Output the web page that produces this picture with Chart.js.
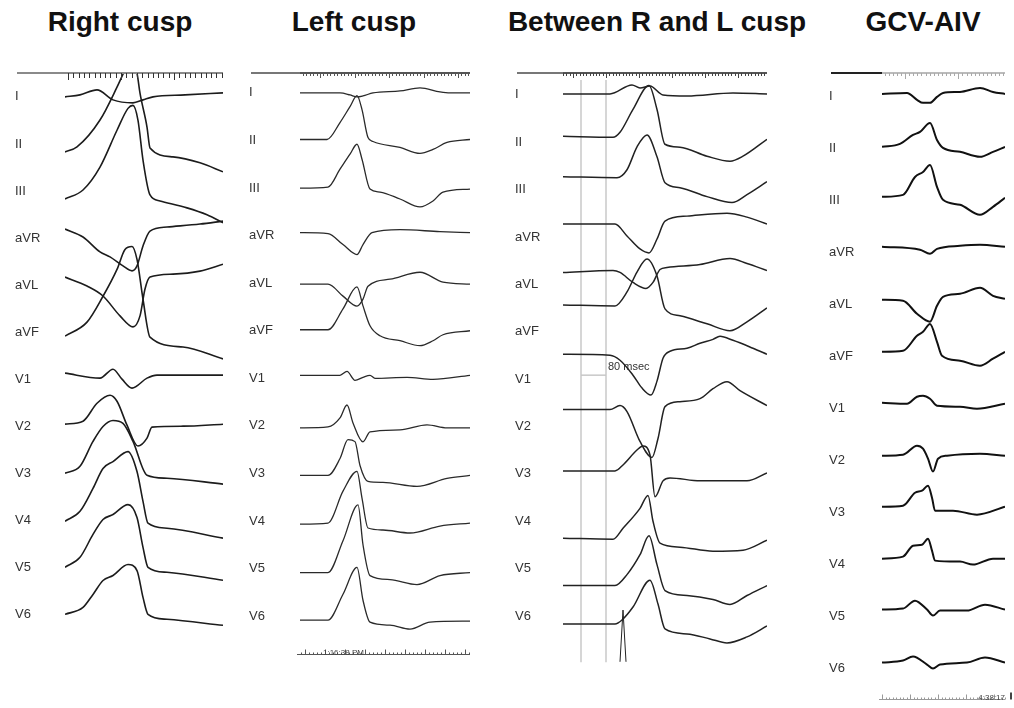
<!DOCTYPE html>
<html>
<head>
<meta charset="utf-8">
<script src="https://cdn.jsdelivr.net/npm/chart.js@4"></script>
<style>
    body { margin: 0; background: #fff; width: 1014px; height: 708px; position: relative; overflow: hidden; font-family: "Liberation Sans", Arial, sans-serif; }
    .title { position: absolute; top: 8px; width: 340px; text-align: center; font-weight: bold; font-size: 28px; line-height: 28px; color: #111; white-space: nowrap; }
</style>
</head>
<body>
<script>
const leadNames = ['I', 'II', 'III', 'aVR', 'aVL', 'aVF', 'V1', 'V2', 'V3', 'V4', 'V5', 'V6'];
const titles = ['Right cusp', 'Left cusp', 'Between R and L cusp', 'GCV-AIV'];

// each lead: [time, amplitude] pairs, time from the start of the strip, amplitude up from the lead's row
const rightCusp = [
    [[0, 0], [15, 2], [32, 7], [48, -3], [68, -6], [78, -3], [88, 0], [120, 2], [158, 4]],
    [[0, -8], [12, -3], [35, 24], [52, 57], [58, 70], [65, 84], [72, 71], [75, 51], [82, 17], [85, -4], [108, -13], [135, -19], [158, -28]],
    [[0, -8], [18, 1], [35, 24], [52, 61], [63, 83], [68, 86], [73, 71], [78, 31], [85, -4], [95, -10], [122, -17], [142, -24], [158, -32]],
    [[0, 9], [18, 1], [35, -14], [45, -19], [58, -28], [67, -33], [72, -28], [78, -8], [85, 7], [102, 11], [135, 14], [158, 17]],
    [[0, 8], [22, -1], [38, -11], [55, -31], [68, -42], [75, -31], [80, -4], [85, 8], [108, 11], [135, 14], [158, 21]],
    [[0, -4], [22, 10], [38, 36], [52, 63], [60, 83], [67, 86], [72, 73], [78, 33], [85, -5], [118, -15], [158, -27]],
    [[0, 6], [35, 1], [48, 10], [57, 0], [67, -9], [82, 1], [92, 4], [158, 4]],
    [[0, 2], [18, 5], [32, 23], [45, 31], [52, 25], [62, 1], [73, -20], [82, -12], [87, -1], [118, 0], [158, 2]],
    [[0, 0], [15, 7], [28, 32], [38, 47], [48, 53], [58, 50], [68, 32], [82, -2], [102, -5], [158, -11]],
    [[0, -1], [15, 9], [28, 32], [38, 52], [48, 59], [63, 69], [72, 49], [78, 19], [83, -3], [102, -8], [158, -18]],
    [[0, 0], [15, 10], [28, 33], [38, 48], [48, 53], [63, 63], [72, 50], [78, 20], [83, 0], [102, -5], [158, -13]],
    [[0, 0], [18, 7], [28, 20], [38, 34], [48, 39], [63, 50], [72, 44], [78, 17], [83, 0], [102, -5], [158, -11]]
];

const leftCusp = [
    [[0, 0], [40, 0], [50, -2], [57, -4], [63, -3], [73, 0], [100, 2], [120, 5], [140, 1], [150, 0], [170, 0]],
    [[0, 1], [27, 1], [40, 18], [50, 34], [57, 45], [62, 31], [68, 3], [73, -1], [100, -7], [120, -13], [133, -9], [147, -2], [170, 1]],
    [[0, 0], [28, 1], [40, 19], [50, 34], [57, 44], [62, 29], [70, -1], [80, -4], [100, -11], [120, -19], [133, -13], [143, -4], [170, -1]],
    [[0, 3], [28, 2], [43, -9], [57, -19], [63, -9], [72, 3], [100, 6], [140, 4], [170, 3]],
    [[0, -1], [28, -1], [43, -13], [57, -23], [63, -16], [68, -3], [90, 4], [120, 11], [143, 1], [170, -1]],
    [[0, 1], [28, 1], [43, 22], [57, 44], [63, 25], [70, 5], [80, -5], [100, -10], [120, -15], [133, -10], [143, -4], [170, 0]],
    [[0, 3], [40, 3], [47, 7], [55, -2], [63, 1], [70, 3], [75, 0], [107, 1], [133, -1], [170, 3]],
    [[0, -2], [28, -1], [40, 8], [47, 21], [53, 3], [63, -16], [70, -6], [100, -4], [127, 1], [147, -2], [170, -2]],
    [[0, -2], [28, -2], [40, 15], [48, 34], [55, 32], [60, 8], [68, -8], [83, -9], [117, -13], [147, -5], [170, -2]],
    [[0, -3], [28, -2], [43, 30], [57, 50], [62, 23], [68, -7], [83, -9], [110, -12], [140, -5], [170, -2]],
    [[0, -4], [28, -4], [43, 28], [58, 64], [63, 24], [70, -7], [90, -11], [117, -16], [140, -7], [170, -4]],
    [[0, -4], [28, -4], [43, 22], [57, 49], [63, 16], [70, -6], [90, -9], [110, -13], [130, -6], [170, -5]]
];

const betweenCusp = [
    [[0, 1], [47, 1], [69, 10], [77, 7], [87, 9], [100, 0], [124, -1], [170, 2], [204, 1]],
    [[0, 6], [50, 5], [57, 10], [70, 33], [86, 57], [94, 33], [102, -2], [117, -5], [144, -14], [167, -19], [180, -14], [204, 3]],
    [[0, 13], [54, 12], [64, 20], [74, 43], [84, 55], [94, 33], [102, 7], [117, 2], [144, -7], [169, -13], [184, -5], [204, 8]],
    [[0, 13], [52, 13], [64, 1], [77, -12], [86, -16], [94, -2], [102, 16], [124, 21], [164, 24], [184, 20], [204, 13]],
    [[0, 12], [50, 14], [57, 12], [70, 2], [83, -4], [90, 2], [97, 15], [104, 17], [137, 20], [167, 26], [184, 21], [204, 14]],
    [[0, 27], [52, 26], [64, 40], [74, 60], [84, 73], [94, 56], [102, 23], [117, 16], [144, 8], [167, 1], [184, 10], [204, 24]],
    [[0, 25], [47, 24], [57, 19], [70, 4], [79, -9], [88, -16], [94, -2], [100, 21], [107, 28], [124, 31], [137, 36], [150, 40], [157, 43], [170, 39], [190, 31], [204, 25]],
    [[0, 17], [47, 17], [57, 21], [64, 15], [77, -15], [89, -31], [95, -12], [102, 20], [117, 25], [137, 28], [150, 38], [164, 45], [177, 36], [204, 21]],
    [[0, 3], [52, 3], [60, 9], [74, 24], [80, 28], [87, 19], [92, -23], [100, -7], [107, -4], [137, -7], [184, -7], [204, 1]],
    [[0, -17], [50, -18], [60, -7], [77, 13], [85, 26], [90, 0], [97, -22], [117, -26], [150, -30], [180, -29], [204, -19]],
    [[0, -17], [52, -17], [64, -6], [77, 14], [86, 33], [94, 4], [102, -22], [124, -27], [150, -31], [167, -36], [184, -27], [204, -17]],
    [[0, -8], [52, -8], [59, -4], [70, 9], [87, 36], [95, 12], [102, -13], [124, -18], [147, -23], [164, -27], [184, -21], [204, -10]]
];

const gcvAiv = [
    [[0, 3], [25, 4], [35, -3], [41, -6], [48, -6], [55, 0], [61, 4], [78, 5], [98, 9], [111, 5], [123, 3]],
    [[0, 2], [18, 5], [31, 14], [38, 17], [48, 26], [55, 9], [61, 1], [78, -3], [98, -8], [111, -3], [123, 2]],
    [[0, 4], [21, 6], [33, 24], [41, 29], [48, 36], [55, 14], [61, 1], [78, -4], [98, -14], [111, -6], [123, 3]],
    [[0, 6], [38, 3], [48, -1], [55, 4], [78, 7], [98, 8], [123, 6]],
    [[0, 5], [21, 4], [35, -9], [48, -17], [55, -1], [61, 8], [78, 11], [98, 17], [111, 9], [123, 6]],
    [[0, 5], [21, 6], [35, 21], [41, 25], [48, 33], [55, 15], [60, 1], [78, -4], [98, -9], [111, -2], [123, 5]],
    [[0, 6], [25, 5], [35, 12], [41, 13], [48, 10], [55, 3], [78, 2], [95, 0], [123, 5]],
    [[0, 5], [21, 6], [35, 15], [41, 12], [46, 2], [51, -11], [56, 2], [65, 5], [98, 7], [123, 5]],
    [[0, 6], [21, 7], [33, 20], [40, 22], [46, 27], [50, 15], [53, 2], [71, 2], [95, -2], [123, 6]],
    [[0, 6], [21, 8], [31, 19], [40, 20], [46, 26], [50, 14], [53, 4], [78, 3], [91, 0], [111, 6], [123, 6]],
    [[0, 7], [21, 8], [33, 16], [45, 7], [51, 1], [58, 6], [85, 6], [103, 12], [123, 7]],
    [[0, 6], [21, 8], [31, 12], [45, 4], [51, 0], [58, 4], [85, 6], [103, 11], [123, 6]]
];

// pacing artefact on V6 of the third strip
const pacingSpike = [[57, -46], [60, 6], [63, -46]];
// calipers on the third strip
const caliperT = [18, 43];
const caliperLabel = '80 msec';
const stampLeft = '1:16:38 PM';
const stampGcv = '4:38:17';

const FONT = '"Liberation Sans", Arial, sans-serif';
const TOP = 60, AREA_TOP = 74;

const panels = [
    { cx: 120, labelX: 15, left: 65, right: 223, padRight: 4, bottom: 650, row0: 97, step: 47.27, span: 158, leads: rightCusp, width: 1.6, color: '#1c1c1c',
      ruler: { first: 3, step: 5.3, every: 10, base: '#8a8a8a', line: '#8a8a8a', tick: '#333', minor: 5, major: 7 } },
    { cx: 354, labelX: 249, left: 300, right: 470, padRight: 4, bottom: 658, row0: 93, step: 47.8, span: 170, leads: leftCusp, width: 1.3, color: '#2a2a2a',
      ruler: { first: 20, step: 3.45, every: 10, base: '#777', line: '#555', tick: '#555', minor: 3, major: 5 },
      stamp: { text: stampLeft, at: 23, align: 'left', first: 5, step: 4, every: 5, color: '#555' } },
    { cx: 657, labelX: 515, left: 563, right: 767, padRight: 4, bottom: 665, row0: 95, step: 47.6, span: 204, leads: betweenCusp, width: 1.5, color: '#222',
      ruler: { first: 10, step: 3.3, every: 10, base: '#777', line: '#555', tick: '#444', minor: 3, major: 5 },
      spike: pacingSpike, calipers: { t: caliperT, row: 6, lift: 4, label: caliperLabel } },
    { cx: 923, labelX: 829, left: 882, right: 1005, padRight: 9, bottom: 703, row0: 97, step: 52.2, span: 123, leads: gcvAiv, width: 2, color: '#111',
      ruler: { first: 23, step: 4.1, every: 13, base: '#222', line: '#bbb', tick: '#aaa', minor: 3, major: 6 },
      stamp: { text: stampGcv, at: 123, align: 'right', first: 56, step: 3.5, every: 8, color: '#999', bar: true } }
];

const decor = {
    id: 'decor',
    beforeDatasetsDraw(chart, args, o) {
        const c = o.calipers;
        if (!c) return;
        const { ctx, chartArea: a, scales: { x, y } } = chart;
        ctx.save();
        ctx.strokeStyle = '#c8c8c8';
        ctx.lineWidth = 1.5;
        c.t.forEach(t => {
            const px = x.getPixelForValue(t);
            ctx.beginPath(); ctx.moveTo(px, a.top + 6); ctx.lineTo(px, a.bottom); ctx.stroke();
        });
        const yb = y.getPixelForValue(-c.row * o.step + c.lift);
        const x1 = x.getPixelForValue(c.t[0]), x2 = x.getPixelForValue(c.t[1]);
        ctx.beginPath(); ctx.moveTo(x1, yb); ctx.lineTo(x2, yb); ctx.stroke();
        ctx.fillStyle = '#333';
        ctx.font = '11px ' + FONT;
        ctx.textBaseline = 'middle';
        ctx.fillText(c.label, x2 + 2, yb - 8);
        ctx.restore();
    },
    afterDatasetsDraw(chart, args, o) {
        const { ctx, chartArea: a, scales: { x, y } } = chart;
        const r = o.ruler;
        const ry = a.top - 1;
        ctx.save();
        ctx.lineWidth = 2;
        ctx.strokeStyle = r.base;
        ctx.beginPath(); ctx.moveTo(y.left + 2, ry); ctx.lineTo(a.left, ry); ctx.stroke();
        ctx.strokeStyle = r.line;
        ctx.beginPath(); ctx.moveTo(a.left, ry); ctx.lineTo(a.right, ry); ctx.stroke();
        ctx.lineWidth = 1;
        ctx.strokeStyle = r.tick;
        for (let k = Math.ceil(-r.first / r.step); r.first + k * r.step <= x.max + 0.01; k++) {
            const px = Math.round(x.getPixelForValue(r.first + k * r.step)) + 0.5;
            const len = k % r.every === 0 ? r.major : r.minor;
            ctx.beginPath(); ctx.moveTo(px, ry); ctx.lineTo(px, ry + len); ctx.stroke();
        }

        const s = o.stamp;
        if (s) {
            const sy = Math.round(a.bottom) - 0.5;
            ctx.strokeStyle = s.color;
            ctx.beginPath(); ctx.moveTo(x.getPixelForValue(-3), sy); ctx.lineTo(a.right, sy); ctx.stroke();
            for (let k = Math.ceil(-s.first / s.step); s.first + k * s.step <= x.max + 0.01; k++) {
                const px = Math.round(x.getPixelForValue(s.first + k * s.step)) + 0.5;
                const len = k % s.every === 0 ? 5 : 2;
                ctx.beginPath(); ctx.moveTo(px, sy); ctx.lineTo(px, sy - len); ctx.stroke();
            }
            ctx.fillStyle = '#444';
            ctx.font = '8px ' + FONT;
            ctx.textAlign = s.align;
            ctx.textBaseline = 'alphabetic';
            ctx.fillText(s.text, x.getPixelForValue(s.at), sy);
            if (s.bar) ctx.fillRect(a.right + 5, sy - 7, 2, 7);
        }
        ctx.restore();
    }
};

titles.forEach((t, i) => {
    const d = document.createElement('div');
    d.className = 'title';
    d.textContent = t;
    d.style.left = (panels[i].cx - 170) + 'px';
    document.body.appendChild(d);
});

panels.forEach(p => {
    const w = p.right + p.padRight - p.labelX;
    const h = p.bottom + 5 - TOP;
    const canvas = document.createElement('canvas');
    canvas.width = w;
    canvas.height = h;
    canvas.style.cssText = `position:absolute;left:${p.labelX}px;top:${TOP}px;width:${w}px;height:${h}px`;
    document.body.appendChild(canvas);

    const line = (pts, offset, extra) => Object.assign({
        data: pts.map(([t, v]) => ({ x: t, y: v + offset })),
        borderColor: p.color,
        borderWidth: p.width,
        pointRadius: 0,
        cubicInterpolationMode: 'monotone',
        clip: 0
    }, extra || {});

    const datasets = p.leads.map((pts, i) => line(pts, -i * p.step));
    if (p.spike) datasets.push(line(p.spike, -11 * p.step, { borderWidth: 1, cubicInterpolationMode: 'default', tension: 0 }));

    new Chart(canvas, {
        type: 'line',
        data: { datasets },
        options: {
            responsive: false,
            animation: false,
            events: [],
            layout: { padding: { left: 0, right: p.padRight, top: AREA_TOP - TOP, bottom: 5 } },
            scales: {
                x: { type: 'linear', min: 0, max: p.span, display: false },
                y: {
                    type: 'linear',
                    min: p.row0 - p.bottom,
                    max: p.row0 - AREA_TOP,
                    grid: { display: false },
                    border: { display: false },
                    afterBuildTicks: s => { s.ticks = leadNames.map((_, i) => ({ value: -i * p.step })); },
                    afterFit: s => { s.width = p.left - p.labelX; },
                    ticks: {
                        autoSkip: false,
                        crossAlign: 'far',
                        padding: 0,
                        color: '#333',
                        font: { family: FONT, size: 13 },
                        callback: (v, i) => leadNames[i]
                    }
                }
            },
            plugins: {
                legend: { display: false },
                tooltip: { enabled: false },
                decor: { ruler: p.ruler, stamp: p.stamp, calipers: p.calipers, step: p.step }
            }
        },
        plugins: [decor]
    });
});
</script>
</body>
</html>
